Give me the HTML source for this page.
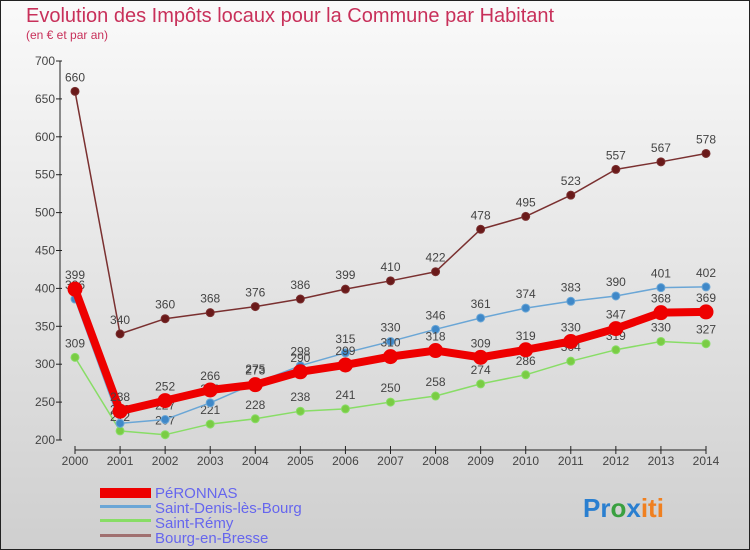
<!DOCTYPE html>
<html><head><meta charset="utf-8"><style>
body{margin:0;}
#c{width:750px;height:550px;position:relative;overflow:hidden;font-family:"Liberation Sans",sans-serif;}
</style></head><body>
<div id="c">
<svg width="750" height="550" id="svg">
<defs><linearGradient id="bg" x1="0" y1="0" x2="0" y2="1"><stop offset="0" stop-color="#fafafa"/><stop offset="1" stop-color="#cfcfcf"/></linearGradient></defs>
<rect x="0.5" y="0.5" width="749" height="549" fill="url(#bg)" stroke="#222"/>
<text x="26" y="22" font-size="20" fill="#c8305a">Evolution des Impôts locaux pour la Commune par Habitant</text>
<text x="26" y="39" font-size="12" fill="#c8305a">(en € et par an)</text>
<g id="axes"></g><g id="series"></g>
<g font-size="15" fill="#6666ee">
<rect x="100" y="488" width="51" height="10" fill="#ee0000"/>
<text x="155" y="498">PéRONNAS</text>
<rect x="100" y="505" width="51" height="3" fill="#6aa6d6"/>
<text x="155" y="513">Saint-Denis-lès-Bourg</text>
<rect x="100" y="519" width="51" height="3" fill="#88dd66"/>
<text x="155" y="528">Saint-Rémy</text>
<rect x="100" y="534" width="51" height="3" fill="#a07070"/>
<text x="155" y="543">Bourg-en-Bresse</text>
</g>
<text x="583" y="517" font-size="26" font-weight="bold"><tspan fill="#2a7fd0">Pr</tspan><tspan fill="#3aa040">o</tspan><tspan fill="#2a7fd0">x</tspan><tspan fill="#f08020">iti</tspan></text>
</svg></div>
<script>
const years=[2000,2001,2002,2003,2004,2005,2006,2007,2008,2009,2010,2011,2012,2013,2014];
const yTicks=[200,250,300,350,400,450,500,550,600,650,700];
const peronnas=[399,238,252,266,273,290,299,310,318,309,319,330,347,368,369];
const saintDenis=[386,222,227,249,275,298,315,330,346,361,374,383,390,401,402];
const saintRemy=[309,212,207,221,228,238,241,250,258,274,286,304,319,330,327];
const bourg=[660,340,360,368,376,386,399,410,422,478,495,523,557,567,578];
const NS='http://www.w3.org/2000/svg';
function xS(i){return 75+i*(706-75)/(years.length-1);}
function yS(v){return 440-(v-200)*(440-61)/500;}
function mk(t,a,p){const e=document.createElementNS(NS,t);for(const k in a)e.setAttribute(k,a[k]);p.appendChild(e);return e;}
const ax=document.getElementById('axes');
let yl=mk('line',{x1:60,y1:yS(700),x2:60,y2:yS(200),stroke:'#222'},ax);


yTicks.forEach(v=>{
 const l=mk('line',{x1:56,y1:yS(v),x2:62,y2:yS(v),stroke:'#222'},ax);
 
 
 const t=mk('text',{x:55,y:yS(v)+4,'font-size':12,fill:'#444','text-anchor':'end'},ax);t.textContent=v;
 
 
});
let xl=mk('line',{x1:75,y1:450,x2:706,y2:450,stroke:'#222'},ax);


years.forEach((y,i)=>{
 const l=mk('line',{x1:xS(i),y1:446,x2:xS(i),y2:454,stroke:'#222'},ax);
 
 
 const t=mk('text',{x:xS(i),y:465,'font-size':12,fill:'#444','text-anchor':'middle'},ax);t.textContent=y;
 
 
});
const sg=document.getElementById('series');
function draw(vals,color,w,r,name,dot){
 const g=mk('g',{},sg);
 
 
 const pl=mk('polyline',{points:vals.map((v,i)=>xS(i)+','+yS(v)).join(' '),fill:'none',stroke:color,'stroke-width':w,'stroke-linejoin':'round'},g);
 
 
 vals.forEach((v,i)=>{
  const c=mk('circle',{cx:xS(i),cy:yS(v),r:r,fill:dot,stroke:color,'stroke-width':1},g);
  
  
  const t=mk('text',{x:xS(i),y:yS(v)-10,'font-size':12,fill:'#444','text-anchor':'middle'},g);t.textContent=v;
  
  
 });
}
draw(bourg,'#7a3030',1.5,4,'bourg','#6a1a1a');
draw(saintRemy,'#88dd66',1.5,4,'saint-remy','#7acc44');
draw(saintDenis,'#6aa6d6',1.5,4,'saint-denis','#3f88c8');
draw(peronnas,'#ee0000',8,7,'peronnas','#ee0000');
</script>
</body></html>
